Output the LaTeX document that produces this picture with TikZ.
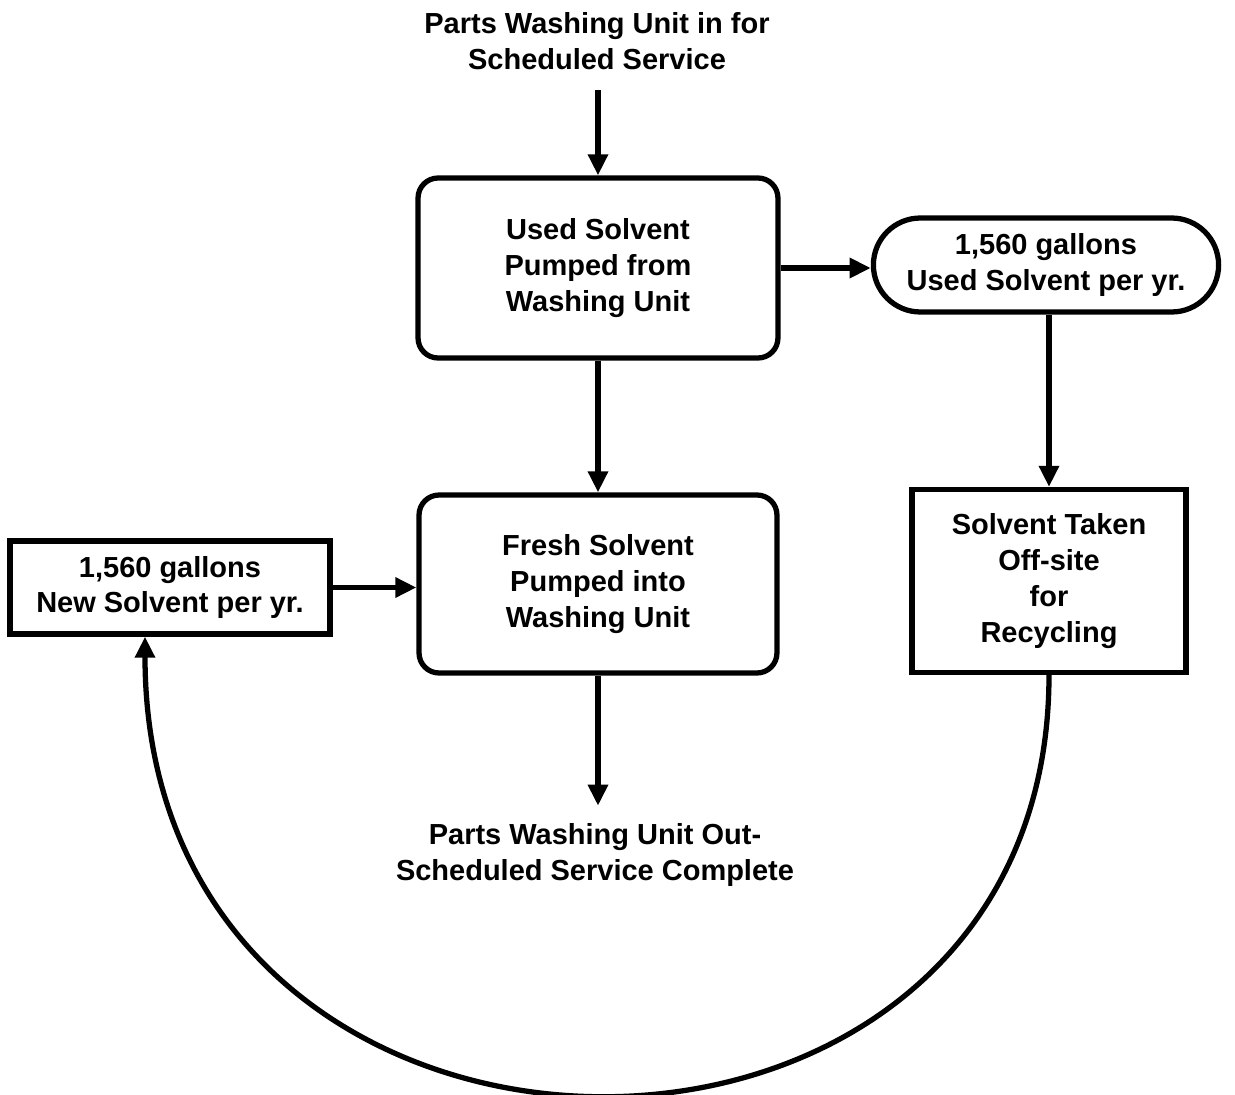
\documentclass[tikz,border=0pt]{standalone}
\usepackage{fontspec}
\setsansfont{Liberation Sans}
\usetikzlibrary{arrows.meta,shapes.misc}

\tikzset{
    label/.style={align=center,font=\sffamily\bfseries\fontsize{16.5}{20.4}\selectfont},
    roundbox/.style={label,draw,line width=3pt,rounded corners=0.4cm,minimum width=7.2cm,minimum height=3.6cm},
    squarebox/.style={label,draw,line width=3pt},
    pill/.style={label,draw,line width=3pt,rounded rectangle,minimum width=7.14cm,minimum height=1.88cm},
    flow/.style={line width=3pt,-{Triangle[length=12pt,width=11pt]}}
}

\begin{document}
\begin{tikzpicture}[x=0.02cm,y=-0.02cm]
    \useasboundingbox (0,0) rectangle (1235,1095);

    % Start and end of the service
    \node[label,inner sep=0pt] (svcin) at (597,41) {Parts Washing Unit in for\\Scheduled Service};
    \node[label,inner sep=0pt] (svcout) at (595,855) {Parts Washing Unit Out-\\Scheduled Service Complete};

    % Washing unit steps
    \node[roundbox] (pumpout) at (598,268) {Used Solvent\\Pumped from\\Washing Unit};
    \node[roundbox,minimum width=7.16cm,minimum height=3.56cm] (pumpin) at (598,584) {Fresh Solvent\\Pumped into\\Washing Unit};

    % Solvent amounts
    \node[pill] (usedgal) at (1046,265) {1,560 gallons\\Used Solvent per yr.};
    \node[squarebox,minimum width=6.4cm,minimum height=1.86cm] (newgal) at (170,587.5) {1,560 gallons\\New Solvent per yr.};
    \node[squarebox,minimum width=5.48cm,minimum height=3.66cm] (offsite) at (1049,581) {Solvent Taken\\Off-site\\for\\Recycling};

    % Arrows
    \draw[flow] ([yshift=-0.4cm]svcin.south -| pumpout.north) -- (pumpout.north);
    \draw[flow] (pumpout.east) -- (pumpout.east -| usedgal.west);
    \draw[flow] (usedgal.south -| offsite.north) -- (offsite.north);
    \draw[flow] (pumpout.south) -- (pumpin.north);
    \draw[flow] (newgal.east) -- (newgal.east -| pumpin.west);
    \draw[flow] (pumpin.south) -- ([yshift=0.35cm]svcout.north -| pumpin.south);

    % Recycled solvent back to new solvent
    \draw[flow] (offsite.south) .. controls +(0,567) and +(0,602) .. ([xshift=-0.5cm]newgal.south);
\end{tikzpicture}
\end{document}
